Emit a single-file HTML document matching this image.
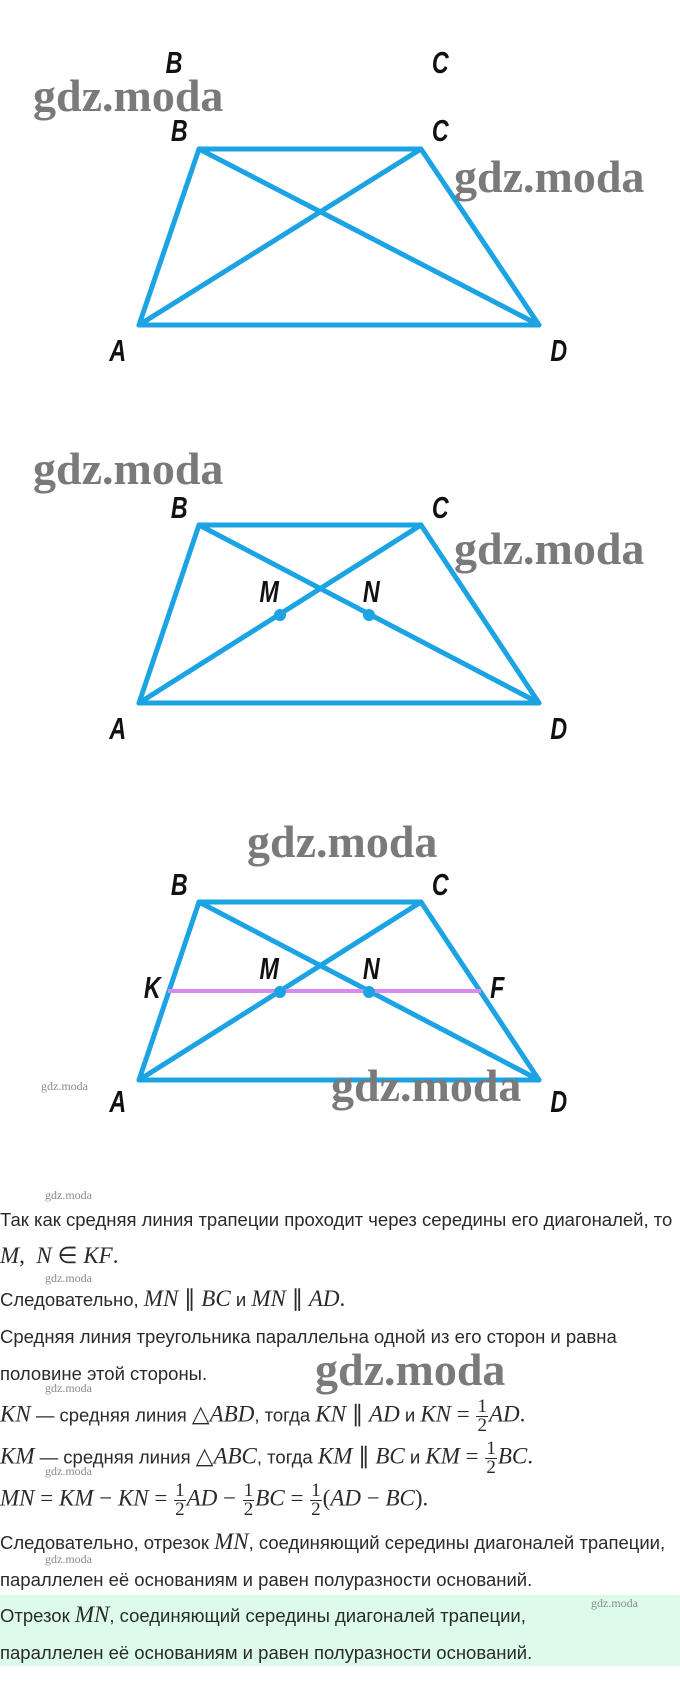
<!DOCTYPE html>
<html><head><meta charset="utf-8"><style>
html,body{margin:0;padding:0;background:#fff;}
body{width:680px;height:1701px;position:relative;overflow:hidden;font-family:"Liberation Sans",sans-serif;color:#2a2a2a;}
.t{position:absolute;left:0;white-space:nowrap;font-size:18.5px;line-height:24px;height:24px;}
.m{font-family:"Liberation Serif",serif;font-style:italic;font-size:23px;}
.r{font-family:"Liberation Serif",serif;font-size:23px;}
.wm{position:absolute;font-family:"Liberation Serif",serif;font-weight:bold;color:#7a7a7a;font-size:46px;line-height:46px;white-space:nowrap;letter-spacing:0px;}
.sw{position:absolute;font-family:"Liberation Serif",serif;color:#8a8a8a;font-size:12px;line-height:12px;white-space:nowrap;}
.fr{display:inline-block;vertical-align:middle;text-align:center;font-family:"Liberation Serif",serif;font-size:19px;line-height:18px;margin:0 1px;}
.fr span{display:block;}
.fr .n{border-bottom:1px solid #2a2a2a;padding:0 1px;}
</style></head><body>
<svg width="680" height="1701" style="position:absolute;left:0;top:0" xmlns="http://www.w3.org/2000/svg">
<g font-family="Liberation Sans, sans-serif" font-style="italic" font-weight="bold" font-size="31" fill="#111" text-anchor="middle">
<g stroke="#1ba3e3" stroke-width="5" fill="none" stroke-linejoin="round" stroke-linecap="round">
<polygon points="199,149 421,149 539,325 139,325"/><line x1="199" y1="149" x2="539" y2="325"/><line x1="421" y1="149" x2="139" y2="325"/>
<polygon points="199,525 421,525 539,703 139,703"/><line x1="199" y1="525" x2="539" y2="703"/><line x1="421" y1="525" x2="139" y2="703"/>
<polygon points="199,902 421,902 539,1080 139,1080"/><line x1="199" y1="902" x2="539" y2="1080"/><line x1="421" y1="902" x2="139" y2="1080"/>
</g>
<line x1="168" y1="991" x2="481" y2="991" stroke="#d98af0" stroke-width="4"/>
<g fill="#1ba3e3"><circle cx="280" cy="615" r="6"/><circle cx="369" cy="615" r="6"/><circle cx="280" cy="992" r="6"/><circle cx="369" cy="992" r="6"/></g>
<g transform="scale(0.75,1)">
<text x="232" y="73">B</text><text x="587" y="73">C</text>
<text x="239" y="141">B</text><text x="587" y="141">C</text>
<text x="157" y="361">A</text><text x="745" y="361">D</text>
<text x="239" y="518">B</text><text x="587" y="518">C</text>
<text x="359" y="602">M</text><text x="495" y="602">N</text>
<text x="157" y="739">A</text><text x="745" y="739">D</text>
<text x="239" y="895">B</text><text x="587" y="895">C</text>
<text x="203" y="998">K</text><text x="359" y="979">M</text><text x="495" y="979">N</text><text x="663" y="998">F</text>
<text x="157" y="1112">A</text><text x="745" y="1112">D</text>
</g>
</g>
</svg>
<div class="wm" style="left:33px;top:73px">gdz.moda</div>
<div class="wm" style="left:454px;top:154px">gdz.moda</div>
<div class="wm" style="left:33px;top:446px">gdz.moda</div>
<div class="wm" style="left:454px;top:526px">gdz.moda</div>
<div class="wm" style="left:247px;top:819px">gdz.moda</div>
<div class="wm" style="left:331px;top:1063px">gdz.moda</div>
<div class="sw" style="left:41px;top:1080px">gdz.moda</div>
<div class="wm" style="left:315px;top:1347px">gdz.moda</div>

<div class="sw" style="left:45px;top:1189px">gdz.moda</div>
<div class="t" style="top:1208px">Так как средняя линия трапеции проходит через середины его диагоналей, то</div>
<div class="t" style="top:1244px"><span class="m">M</span><span class="r">,&nbsp; </span><span class="m">N</span><span class="r"> ∈ </span><span class="m">KF</span><span class="r">.</span></div>
<div class="sw" style="left:45px;top:1272px">gdz.moda</div>
<div class="t" style="top:1287px">Следовательно, <span class="m">MN</span><span class="r"> ∥ </span><span class="m">BC</span> и <span class="m">MN</span><span class="r"> ∥ </span><span class="m">AD</span><span class="r">.</span></div>
<div class="t" style="top:1325px">Средняя линия треугольника параллельна одной из его сторон и равна</div>
<div class="t" style="top:1362px">половине этой стороны.</div>
<div class="sw" style="left:45px;top:1382px">gdz.moda</div>
<div class="t" style="top:1398px;height:30px;line-height:30px"><span class="m">KN</span> — средняя линия <span class="r">△</span><span class="m">ABD</span>, тогда <span class="m">KN</span><span class="r"> ∥ </span><span class="m">AD</span> и <span class="m">KN</span><span class="r"> = </span><span class="fr"><span class="n">1</span><span>2</span></span><span class="m">AD</span><span class="r">.</span></div>
<div class="t" style="top:1440px;height:30px;line-height:30px"><span class="m">KM</span> — средняя линия <span class="r">△</span><span class="m">ABC</span>, тогда <span class="m">KM</span><span class="r"> ∥ </span><span class="m">BC</span> и <span class="m">KM</span><span class="r"> = </span><span class="fr"><span class="n">1</span><span>2</span></span><span class="m">BC</span><span class="r">.</span></div>
<div class="sw" style="left:45px;top:1465px">gdz.moda</div>
<div class="t" style="top:1482px;height:30px;line-height:30px"><span class="m">MN</span><span class="r"> = </span><span class="m">KM</span><span class="r"> − </span><span class="m">KN</span><span class="r"> = </span><span class="fr"><span class="n">1</span><span>2</span></span><span class="m">AD</span><span class="r"> − </span><span class="fr"><span class="n">1</span><span>2</span></span><span class="m">BC</span><span class="r"> = </span><span class="fr"><span class="n">1</span><span>2</span></span><span class="r">(</span><span class="m">AD</span><span class="r"> − </span><span class="m">BC</span><span class="r">).</span></div>
<div class="t" style="top:1530px">Следовательно, отрезок <span class="m">MN</span>, соединяющий середины диагоналей трапеции,</div>
<div class="sw" style="left:45px;top:1553px">gdz.moda</div>
<div class="t" style="top:1568px">параллелен её основаниям и равен полуразности оснований.</div>
<div style="position:absolute;left:0;top:1595px;width:680px;height:71px;background:#dcfbea"></div>
<div class="t" style="top:1603px">Отрезок <span class="m">MN</span>, соединяющий середины диагоналей трапеции,</div>
<div class="sw" style="left:591px;top:1597px">gdz.moda</div>
<div class="t" style="top:1641px">параллелен её основаниям и равен полуразности оснований.</div>
</body></html>
